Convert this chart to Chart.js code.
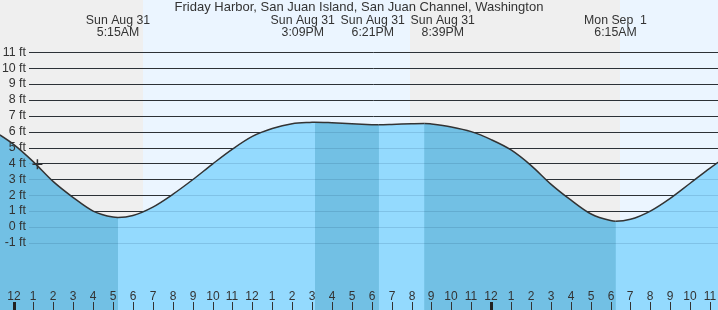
<!DOCTYPE html>
<html>
<head>
<meta charset="utf-8">
<script src="https://cdn.jsdelivr.net/npm/chart.js@4/dist/chart.umd.min.js"></script>
<style>
  html, body { margin: 0; padding: 0; background: #fff; }
  #wrap { width: 718px; height: 310px; position: relative; }
</style>
</head>
<body>
<div id="wrap"><canvas id="tideChart" width="718" height="310"></canvas></div>
<script>
// Tide curve, hours from Sun Aug 31 00:00
const tideHours = [-1, 0, 1, 2, 3, 4, 5, 5.25, 6, 7, 8, 9, 10, 11, 12, 13, 14, 15, 15.15, 16, 17, 18,
  18.35, 19, 20, 20.65, 21, 22, 23, 24, 25, 26, 27, 28, 29, 30, 30.25, 31, 32, 33, 34, 35, 36];
const tideFeet = [6.05, 5.2, 4.1, 2.85, 1.85, 1.0, 0.62, 0.6, 0.72, 1.25, 2.05, 2.97, 3.96, 4.9, 5.7, 6.2, 6.5, 6.59, 6.6, 6.56, 6.49, 6.44,
  6.43, 6.45, 6.5, 6.52, 6.48, 6.3, 6.0, 5.5, 4.85, 3.88, 2.7, 1.7, 0.83, 0.4, 0.36, 0.48, 1.0, 1.8, 2.75, 3.7, 4.6];

// High / low tide labels
const extremeHours = [5.25, 15.15, 18.35, 20.65, 30.25];
const extremeDates = ["Sun Aug 31", "Sun Aug 31", "Sun Aug 31", "Sun Aug 31", "Mon Sep  1"];
const extremeTimes = ["5:15AM", "3:09PM", "6:21PM", "8:39PM", "6:15AM"];

// current time marker
const nowHour = [1.2];
const nowFeet = [3.94];

// daylight (sunrise, sunset) in hours
const sunrises = [6.5, 30.48];
const sunsets = [19.92];

const depthTicks = [-1, 0, 1, 2, 3, 4, 5, 6, 7, 8, 9, 10, 11];
const hourTicks = [];
for (let h = 0; h <= 35; h++) hourTicks.push(h);
const hourLabels = ["12", "1", "2", "3", "4", "5", "6", "7", "8", "9", "10", "11",
  "12", "1", "2", "3", "4", "5", "6", "7", "8", "9", "10", "11",
  "12", "1", "2", "3", "4", "5", "6", "7", "8", "9", "10", "11"];

const titleText = "Friday Harbor, San Juan Island, San Juan Channel, Washington";

const FAMILY = '"Liberation Sans", Arial, sans-serif';
const RISING = "#94dafe";
const FALLING = "#72c0e4";

// push overlapping labels apart, keeping each group centred on its mean
function spreadLabels(xs, gap) {
  let groups = xs.map((x, i) => ({ idx: [i], mean: x }));
  let merged = true;
  while (merged) {
    merged = false;
    for (let i = 0; i < groups.length - 1; i++) {
      const a = groups[i], b = groups[i + 1];
      const aRight = a.mean + (a.idx.length - 1) * gap / 2;
      const bLeft = b.mean - (b.idx.length - 1) * gap / 2;
      if (bLeft - aRight < gap) {
        const idx = a.idx.concat(b.idx);
        const mean = idx.reduce((s, k) => s + xs[k], 0) / idx.length;
        groups.splice(i, 2, { idx: idx, mean: mean });
        merged = true;
        break;
      }
    }
  }
  const out = [];
  groups.forEach(g => g.idx.forEach((k, j) => {
    out[k] = g.mean + (j - (g.idx.length - 1) / 2) * gap;
  }));
  return out;
}

function drawGrid(chart, color) {
  const { ctx, chartArea: a, scales: { y } } = chart;
  ctx.save();
  ctx.strokeStyle = color;
  ctx.lineWidth = 1;
  depthTicks.forEach(v => {
    const py = Math.round(y.getPixelForValue(v)) + 0.5;
    ctx.beginPath();
    ctx.moveTo(29, py);
    ctx.lineTo(a.right, py);
    ctx.stroke();
  });
  ctx.restore();
}

const tideDecor = {
  id: "tideDecor",
  beforeDraw(chart) {
    const { ctx, chartArea: a, scales: { x } } = chart;
    ctx.save();
    ctx.fillStyle = "#ebf5ff";
    ctx.fillRect(a.left, a.top, a.right - a.left, a.bottom - a.top);
    // night shading
    ctx.fillStyle = "#efefef";
    const nightStarts = [x.min].concat(sunsets);
    nightStarts.forEach((s, i) => {
      const x0 = Math.round(x.getPixelForValue(s));
      const x1 = Math.round(x.getPixelForValue(sunrises[i]));
      ctx.fillRect(x0, a.top, x1 - x0, a.bottom - a.top);
    });
    ctx.restore();
  },
  beforeDatasetsDraw(chart) {
    drawGrid(chart, "#333");
  },
  afterDatasetsDraw(chart) {
    // grid shows faintly through the water
    drawGrid(chart, "rgba(0, 40, 80, 0.13)");

    const { ctx, chartArea: a, scales: { x, y } } = chart;
    ctx.save();
    ctx.fillStyle = "#333";

    // depth labels
    ctx.font = "12.4px " + FAMILY;
    ctx.textAlign = "right";
    ctx.textBaseline = "middle";
    depthTicks.forEach(v => {
      ctx.fillText(v + " ft", 26, y.getPixelForValue(v));
    });

    // hour ticks and labels
    ctx.font = "12px " + FAMILY;
    ctx.textAlign = "center";
    ctx.textBaseline = "alphabetic";
    hourTicks.forEach((h, i) => {
      const px = Math.round(x.getPixelForValue(h));
      ctx.fillStyle = "#333";
      ctx.fillText(hourLabels[i], px, a.bottom - 10);
      if (h % 24 === 0) {
        ctx.fillStyle = "#222";
        ctx.fillRect(px - 1, a.bottom - 8, 3, 8);
      } else {
        ctx.fillStyle = "#333";
        ctx.fillRect(px, a.bottom - 8, 1, 8);
      }
    });

    // title and tide labels
    ctx.fillStyle = "#333";
    ctx.font = "13px " + FAMILY;
    ctx.fillText(titleText, (a.left + a.right) / 2, 11);
    ctx.font = "12.3px " + FAMILY;
    const xs = spreadLabels(extremeHours.map(h => x.getPixelForValue(h)), 70);
    xs.forEach((px, i) => {
      ctx.fillText(extremeDates[i], px, 24);
      ctx.fillText(extremeTimes[i], px, 36);
    });
    ctx.restore();
  }
};

const tidePoints = tideHours.map((h, i) => ({ x: h, y: tideFeet[i] }));

new Chart(document.getElementById("tideChart"), {
  type: "line",
  data: {
    datasets: [
      {
        // falling water everywhere underneath
        data: tidePoints,
        order: 3,
        borderWidth: 0,
        borderColor: "rgba(0,0,0,0)",
        pointRadius: 0,
        cubicInterpolationMode: "monotone",
        fill: "start",
        backgroundColor: FALLING
      },
      {
        // rising stretches on top, plus the curve itself
        data: tidePoints,
        order: 2,
        borderColor: "#333",
        borderWidth: 1.5,
        pointRadius: 0,
        cubicInterpolationMode: "monotone",
        fill: "start",
        backgroundColor: RISING,
        segment: {
          backgroundColor: c => (c.p1.parsed.y > c.p0.parsed.y ? RISING : "rgba(0,0,0,0)")
        }
      },
      {
        data: nowHour.map((h, i) => ({ x: h, y: nowFeet[i] })),
        order: 1,
        showLine: false,
        pointStyle: "cross",
        pointRadius: 5,
        borderColor: "#333",
        borderWidth: 1.5,
        fill: false
      }
    ]
  },
  options: {
    responsive: false,
    animation: false,
    layout: { padding: 0, autoPadding: false },
    plugins: { legend: { display: false }, tooltip: { enabled: false } },
    scales: {
      x: { type: "linear", min: -0.68, max: 35.4, display: false },
      y: { type: "linear", min: -5.23, max: 14.29, display: false }
    }
  },
  plugins: [tideDecor]
});
</script>
</body>
</html>
